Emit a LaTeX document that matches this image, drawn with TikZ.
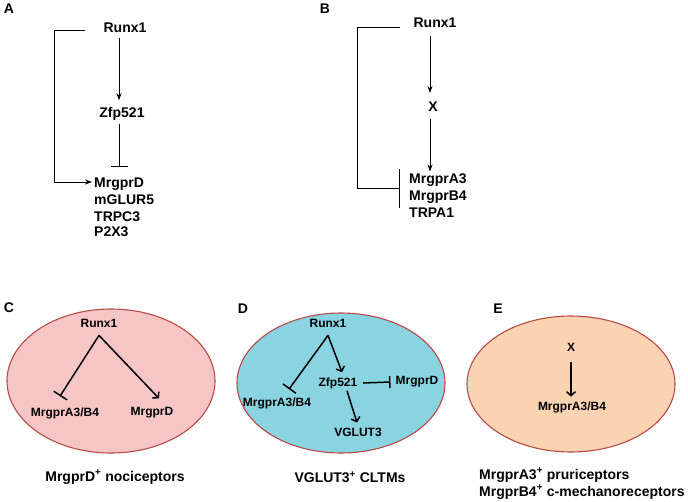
\documentclass[tikz,border=0pt]{standalone}
\usepackage{fontspec}
\setmainfont{Liberation Sans}
\usetikzlibrary{arrows.meta,shapes.geometric,calc}
\definecolor{pinkfill}{HTML}{F6C5C6}
\definecolor{cyanfill}{HTML}{8AD4E2}
\definecolor{peachfill}{HTML}{FAD3B2}
\definecolor{ellborder}{HTML}{B84A47}
\begin{document}
\begin{tikzpicture}[x=1pt,y=-1pt,
  lab/.style={font=\fontsize{14}{16}\selectfont\bfseries, inner sep=0pt},
  gA/.style={font=\fontsize{14}{16}\selectfont\bfseries, inner sep=1pt},
  gC/.style={font=\fontsize{12}{14}\selectfont\bfseries, inner sep=1pt},
  capt/.style={font=\fontsize{14}{16}\selectfont\bfseries, inner sep=0pt},
  thinarr/.style={-{Stealth[length=7pt,width=5pt]}, line width=0.7pt},
  thininh/.style={-{Bar[width=39pt]}, line width=0.9pt},
  thininhA/.style={-{Bar[width=17pt]}, line width=0.7pt},
  thickarr/.style={-{Straight Barb[length=4pt,width=9pt]}, line width=1.5pt},
  thickinh/.style={-{Bar[width=16pt]}, line width=1.5pt},
  ell/.style={ellipse, draw=ellborder, line width=1.1pt, inner sep=0pt}
]
\useasboundingbox (0,0) rectangle (688,501);

% ---------------- Panel A ----------------
\node[lab] (LA) at (9,9) {A};
\node[gA] (ra) at (125,28) {Runx1};
\node[gA] (za) at (122,114) {Zfp521};
\node[gA,anchor=west] (ma1) at (93,184) {MrgprD};
\node[gA,anchor=west] (ma2) at (93,200) {mGLUR5};
\node[gA,anchor=west] (ma3) at (93,217) {TRPC3};
\node[gA,anchor=west] (ma4) at (93,232) {P2X3};
\coordinate (xa) at (119,0);
\coordinate (ba) at (54,0);
\draw[thinarr] ([yshift=-4pt]ra.south -| xa) -- ([yshift=6pt]za.north -| xa);
\draw[thininhA] ([yshift=-2pt]za.south -| xa) -- ([yshift=10pt]ma1.north -| xa);
\draw[thinarr] ([xshift=-17pt,yshift=-2pt]ra.west) -- ([yshift=-2pt]ba |- ra.west) -- ([yshift=2pt]ba |- ma1.west) -- ([xshift=-1pt,yshift=2pt]ma1.west);

% ---------------- Panel B ----------------
\node[lab] (LB) at (325,9) {B};
\node[gA] (rb) at (435,23) {Runx1};
\node[gA] (xb) at (433,107) {X};
\node[gA,anchor=west] (mb1) at (408,180) {MrgprA3};
\node[gA,anchor=west] (mb2) at (408,197) {MrgprB4};
\node[gA,anchor=west] (mb3) at (408,213) {TRPA1};
\coordinate (xB) at (430,0);
\coordinate (bB) at (357,0);
\coordinate (mbm) at ($(mb1.west)!0.5!(mb2.west)$);
\draw[thinarr] ([yshift=-7pt]rb.south -| xB) -- ([yshift=8pt]xb.north -| xB);
\draw[thinarr] ([yshift=-6pt]xb.south -| xB) -- ([yshift=1pt]mb1.north -| xB);
\draw[thininh] ([xshift=-12pt,yshift=-4pt]rb.west) -- ([yshift=-4pt]bB |- rb.west) -- (bB |- mbm) -- ([xshift=-8pt]mbm);

% ---------------- Panel C ----------------
\node[ell, fill=pinkfill, minimum width=208pt, minimum height=144pt] (eC) at (111,381) {};
\node[lab] (LC) at (9,308) {C};
\node[gC] (rc) at (99,323) {Runx1};
\node[gC] (mc1) at (65,413) {MrgprA3/B4};
\node[gC] (mc2) at (152,413) {MrgprD};
\draw[thickinh] ([yshift=-7pt]rc.south) -- ([xshift=-5pt,yshift=10pt]mc1.north);
\draw[thickarr] ([yshift=-7pt]rc.south) -- ([xshift=7pt,yshift=8pt]mc2.north);
\node[capt] (capC) at (115,477) {MrgprD\textsuperscript{+} nociceptors};

% ---------------- Panel D ----------------
\node[ell, fill=cyanfill, minimum width=208pt, minimum height=140pt] (eD) at (341,383) {};
\node[lab] (LD) at (243,309) {D};
\node[gC] (rd) at (328,323) {Runx1};
\node[gC] (md1) at (277,403) {MrgprA3/B4};
\node[gC] (zd) at (338,383) {Zfp521};
\node[gC] (mdD) at (417,382) {MrgprD};
\node[gC] (vd) at (358,432) {VGLUT3};
\draw[thickinh] ([yshift=-7pt]rd.south) -- ([xshift=12pt,yshift=7pt]md1.north);
\draw[thickarr] ([yshift=-7pt]rd.south) -- ([xshift=4pt,yshift=4pt]zd.north);
\draw[thickinh, -{Bar[width=12pt]}] ([xshift=4.5pt]zd.east) -- ([xshift=-4pt]mdD.west);
\draw[thickarr] ([xshift=9pt,yshift=-1pt]zd.south) -- ([xshift=-1pt,yshift=4pt]vd.north);
\node[capt] (capD) at (350,477) {VGLUT3\textsuperscript{+} CLTMs};

% ---------------- Panel E ----------------
\node[ell, fill=peachfill, minimum width=208pt, minimum height=136pt] (eE) at (571,384) {};
\node[lab] (LE) at (498,309) {E};
\node[gC] (xe) at (571,347) {X};
\node[gC] (me) at (572,407) {MrgprA3/B4};
\draw[thickarr] ([yshift=-10pt]xe.south) -- ([xshift=-1pt,yshift=3.5pt]me.north);
\node[capt, anchor=west] (capE1) at (479,475) {MrgprA3\textsuperscript{+} pruriceptors};
\node[capt, anchor=west] (capE2) at (479,492) {MrgprB4\textsuperscript{+} c-mechanoreceptors};
\end{tikzpicture}
\end{document}
